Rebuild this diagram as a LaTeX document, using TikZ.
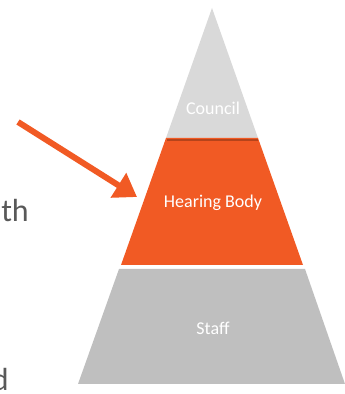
\documentclass[tikz,border=0pt]{standalone}
\usepackage{fontspec}
\setmainfont{Carlito}
\usetikzlibrary{positioning}
\usetikzlibrary{arrows.meta}

\definecolor{tierorange}{HTML}{F15A24}
\definecolor{toplight}{HTML}{D9D9D9}
\definecolor{basegrey}{HTML}{BFBFBF}
\definecolor{slidetext}{HTML}{595959}

\begin{document}
\begin{tikzpicture}[x = 1pt, y = 1pt,
		tierlabel/.style = {text = white, font = \fontsize{18}{20}\selectfont, inner sep = 0pt},
		bodytext/.style = {text = slidetext, font = \fontsize{32}{36}\selectfont, inner sep = 0pt, anchor = base east}]
	\useasboundingbox (0, 0) rectangle (345, 394);
	% the three tiers, top to bottom
	\fill [toplight] (212, 386) -- (258, 256) -- (166, 256) -- cycle;
	\fill [tierorange] (166, 256) -- (258, 256) -- (303, 129) -- (121, 129) -- cycle;
	\draw [tierorange!75!black, line width = 1.2pt] (167, 254) -- (258, 254);
	\fill [basegrey] (119, 125) -- (305, 125) -- (345, 10) -- (78, 10) -- cycle;
	\node (council) at (213, 286) [tierlabel] {Council};
	\node (hearing) at (213, 191) [tierlabel] {Hearing Body};
	\node (staff) at (213, 66) [tierlabel] {Staff};
	% pointer onto the middle tier
	\coordinate (tail) at (18, 272);
	\coordinate (tip) at (137, 197);
	\draw [tierorange, line width = 6pt, -{Triangle[length = 22pt, width = 28pt]}] (tail) -- (tip);
	% cut-off words of the slide text
	\node (with) at (29, 172) [bodytext] {th};
	\node (and) at (9, 4) [bodytext] {d};
\end{tikzpicture}
\end{document}
